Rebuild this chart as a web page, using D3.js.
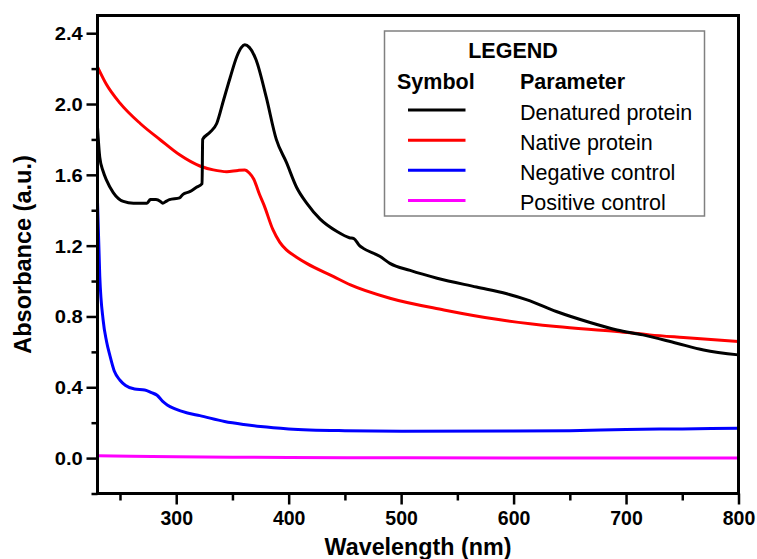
<!DOCTYPE html>
<html>
<head>
<meta charset="utf-8">
<script src="https://cdn.jsdelivr.net/npm/d3@7"></script>
<style>
  html, body { margin: 0; padding: 0; background: #ffffff; }
  svg { display: block; font-family: "Liberation Sans", Arial, sans-serif; }
</style>
</head>
<body>
<svg id="chart" width="757" height="559"></svg>
<script>
// ---------- data ----------
const seriesNames = ["Denatured protein", "Native protein", "Negative control", "Positive control"];
const seriesColors = ["#000000", "#ff0000", "#0000ff", "#ff00ff"];

const denaturedNm = [230, 232, 235, 238, 244, 253, 262, 274, 277, 282, 286, 288, 291, 294, 303, 306, 312, 318, 323, 323.5, 330, 336, 342, 348, 354, 358, 361, 365, 371, 380, 389, 398, 407, 416, 428, 443, 454, 458, 463, 466, 481, 490, 508, 532, 567, 594, 612, 638, 668, 692, 715, 745, 769, 800];
const denaturedAbs = [1.87, 1.70, 1.62, 1.57, 1.50, 1.45, 1.44, 1.44, 1.46, 1.46, 1.45, 1.44, 1.45, 1.46, 1.47, 1.49, 1.505, 1.53, 1.55, 1.80, 1.84, 1.89, 2.02, 2.15, 2.27, 2.32, 2.335, 2.32, 2.25, 2.04, 1.80, 1.67, 1.53, 1.44, 1.35, 1.28, 1.245, 1.24, 1.20, 1.186, 1.14, 1.10, 1.06, 1.016, 0.966, 0.928, 0.894, 0.828, 0.766, 0.724, 0.696, 0.649, 0.611, 0.583];

const nativeNm = [230, 238, 250, 268, 286, 303, 321, 333, 345, 355, 361, 365, 369, 374, 378, 386, 392, 398, 407, 416, 440, 455, 490, 538, 588, 638, 692, 721, 751, 800];
const nativeAbs = [2.21, 2.11, 2.005, 1.89, 1.797, 1.713, 1.65, 1.628, 1.618, 1.625, 1.627, 1.61, 1.575, 1.49, 1.43, 1.29, 1.22, 1.176, 1.135, 1.10, 1.025, 0.978, 0.903, 0.837, 0.781, 0.743, 0.715, 0.696, 0.681, 0.658];

const negativeNm = [230, 232, 235, 238, 241, 245, 250, 255, 263, 272, 278, 283, 288, 292, 299, 310, 321, 343, 360, 375, 400, 450, 500, 600, 650, 700, 750, 800];
const negativeAbs = [1.45, 1.03, 0.78, 0.66, 0.58, 0.49, 0.44, 0.41, 0.39, 0.385, 0.37, 0.355, 0.32, 0.30, 0.278, 0.255, 0.24, 0.207, 0.19, 0.178, 0.165, 0.155, 0.152, 0.153, 0.155, 0.162, 0.165, 0.168];

const positiveNm = [230, 260, 300, 350, 400, 500, 600, 700, 800];
const positiveAbs = [0.013, 0.011, 0.008, 0.005, 0.003, 0.002, 0.001, 0.0, 0.0];

const xMajorTicks = [300, 400, 500, 600, 700, 800];
const xMinorTicks = [250, 350, 450, 550, 650, 750];
const yMajorTicks = [0.0, 0.4, 0.8, 1.2, 1.6, 2.0, 2.4];
const yMinorTicks = [-0.2, 0.2, 0.6, 1.0, 1.4, 1.8, 2.2];

const xDomain = [230, 800];
const yDomain = [-0.2, 2.5];

const xTitle = "Wavelength (nm)";
const yTitle = "Absorbance (a.u.)";
const legendTitle = "LEGEND";
const legendColHeads = ["Symbol", "Parameter"];

// ---------- layout ----------
const plot = { left: 97.5, right: 738.5, top: 15.5, bottom: 493.5 };
const svg = d3.select("#chart");

const x = d3.scaleLinear().domain(xDomain).range([plot.left, plot.right]);
const y = d3.scaleLinear().domain(yDomain).range([plot.bottom, plot.top]);

const series = [
  { nm: denaturedNm, abs: denaturedAbs },
  { nm: nativeNm, abs: nativeAbs },
  { nm: negativeNm, abs: negativeAbs },
  { nm: positiveNm, abs: positiveAbs }
].map((s, i) => ({
  name: seriesNames[i],
  color: seriesColors[i],
  points: s.nm.map((v, j) => ({ nm: v, a: s.abs[j] }))
}));

// clip
svg.append("defs").append("clipPath").attr("id", "plotclip")
  .append("rect")
  .attr("x", plot.left).attr("y", plot.top)
  .attr("width", plot.right - plot.left).attr("height", plot.bottom - plot.top);

// lines (drawn in reverse so black is on top)
const gLines = svg.append("g").attr("clip-path", "url(#plotclip)");
const line = d3.line().x(d => x(d.nm)).y(d => y(d.a)).curve(d3.curveMonotoneX);
series.slice().reverse().forEach(s => {
  gLines.append("path")
    .datum(s.points)
    .attr("d", line)
    .attr("fill", "none")
    .attr("stroke", s.color)
    .attr("stroke-width", 3)
    .attr("stroke-linejoin", "round")
    .attr("stroke-linecap", "round");
});

// ---------- axes ----------
const tickStroke = 2.5;
// x minor
svg.append("g")
  .attr("transform", `translate(0,${plot.bottom})`)
  .call(d3.axisBottom(x).tickValues(xMinorTicks).tickSize(7).tickFormat(""))
  .call(g => g.select(".domain").remove())
  .call(g => g.selectAll("line").attr("stroke-width", tickStroke));
// x major
const gx = svg.append("g")
  .attr("transform", `translate(0,${plot.bottom})`)
  .call(d3.axisBottom(x).tickValues(xMajorTicks).tickSize(11).tickFormat(d3.format("d")))
  .call(g => g.select(".domain").remove())
  .call(g => g.selectAll("line").attr("stroke-width", tickStroke));
gx.selectAll("text")
  .attr("y", 31.5).attr("dy", null)
  .attr("font-size", "19.5px").attr("font-weight", "bold")
  .attr("font-family", "'Liberation Sans', Arial, sans-serif")
  .attr("fill", "#000");

// y minor
svg.append("g")
  .attr("transform", `translate(${plot.left},0)`)
  .call(d3.axisLeft(y).tickValues(yMinorTicks).tickSize(6).tickFormat(""))
  .call(g => g.select(".domain").remove())
  .call(g => g.selectAll("line").attr("stroke-width", tickStroke));
// y major
const labelStretch = 1.12;
const gy = svg.append("g")
  .attr("transform", `translate(${plot.left},0)`)
  .call(d3.axisLeft(y).tickValues(yMajorTicks).tickSize(11).tickFormat(d3.format(".1f")))
  .call(g => g.select(".domain").remove())
  .call(g => g.selectAll("line").attr("stroke-width", tickStroke));
gy.selectAll("text")
  .attr("x", -14.8 / labelStretch)
  .attr("dy", "0.36em")
  .attr("transform", `scale(${labelStretch},1)`)
  .attr("font-size", "18px").attr("font-weight", "bold")
  .attr("font-family", "'Liberation Sans', Arial, sans-serif")
  .attr("fill", "#000");

// frame
svg.append("rect")
  .attr("x", plot.left).attr("y", plot.top)
  .attr("width", plot.right - plot.left).attr("height", plot.bottom - plot.top)
  .attr("fill", "none").attr("stroke", "#000").attr("stroke-width", 3);

// axis titles
svg.append("text")
  .attr("x", (plot.left + plot.right) / 2).attr("y", 555)
  .attr("text-anchor", "middle")
  .attr("font-size", "23.3px").attr("font-weight", "bold")
  .text(xTitle);

svg.append("text")
  .attr("transform", `translate(31,${(plot.top + plot.bottom) / 2}) rotate(-90)`)
  .attr("text-anchor", "middle")
  .attr("font-size", "23.5px").attr("font-weight", "bold")
  .text(yTitle);

// ---------- legend ----------
const lg = svg.append("g");
lg.append("rect")
  .attr("x", 384.5).attr("y", 31)
  .attr("width", 320).attr("height", 185)
  .attr("fill", "#ffffff").attr("stroke", "#808080").attr("stroke-width", 1.5);
lg.append("text")
  .attr("x", 513).attr("y", 57.5).attr("text-anchor", "middle")
  .attr("font-size", "21.5px").attr("font-weight", "bold")
  .text(legendTitle);
lg.append("text")
  .attr("x", 397).attr("y", 88.5)
  .attr("font-size", "21.5px").attr("font-weight", "bold")
  .text(legendColHeads[0]);
lg.append("text")
  .attr("x", 520).attr("y", 88.5)
  .attr("font-size", "21.5px").attr("font-weight", "bold")
  .text(legendColHeads[1]);

const rowY = d3.scalePoint().domain(seriesNames).range([119.5, 210]);
series.forEach(s => {
  const yy = rowY(s.name);
  lg.append("line")
    .attr("x1", 408).attr("x2", 465.5)
    .attr("y1", yy - 9.5).attr("y2", yy - 9.5)
    .attr("stroke", s.color).attr("stroke-width", 3);
  lg.append("text")
    .attr("x", 520).attr("y", yy)
    .attr("font-size", "21.5px")
    .text(s.name);
});
</script>
</body>
</html>
